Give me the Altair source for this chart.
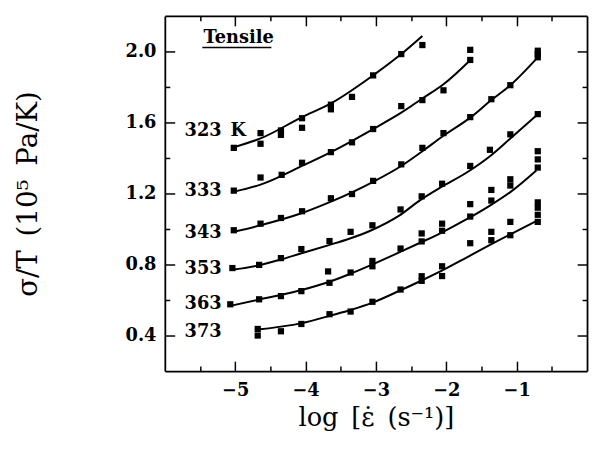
import altair as alt
import pandas as pd

# ---------------- data ----------------
temps = [323, 333, 343, 353, 363, 373]
label_text = ["323\u2002K", "333", "343", "353", "363", "373"]
label_x = [-5.72, -5.72, -5.72, -5.72, -5.72, -5.72]
label_y = [1.549, 1.216, 0.975, 0.776, 0.576, 0.418]

# measured points (log strain rate, sigma/T)
px323 = [-5.02, -4.64, -4.64, -4.35, -4.35, -4.05, -4.05, -3.64, -3.64, -3.34, -3.04, -2.64, -2.34]
py323 = [1.457, 1.54, 1.48, 1.555, 1.53, 1.624, 1.57, 1.70, 1.674, 1.744, 1.865, 1.985, 2.036]

px333 = [-5.02, -4.64, -4.34, -4.05, -3.64, -3.34, -3.04, -2.64, -2.34, -2.04, -1.66, -1.66]
py333 = [1.216, 1.29, 1.305, 1.373, 1.433, 1.488, 1.563, 1.692, 1.726, 1.781, 1.952, 2.009]

px343 = [-5.02, -4.64, -4.35, -4.05, -3.64, -3.34, -3.04, -2.64, -2.34, -2.04, -1.66, -1.36, -1.09, -0.70, -0.70, -0.70]
py343 = [0.993, 1.03, 1.062, 1.10, 1.173, 1.197, 1.271, 1.364, 1.457, 1.54, 1.63, 1.731, 1.81, 1.967, 1.985, 2.004]

px353 = [-5.04, -4.66, -4.35, -4.06, -3.66, -3.36, -3.05, -2.65, -2.35, -2.06, -1.66, -1.38, -1.09, -0.70]
py353 = [0.78, 0.798, 0.836, 0.887, 0.932, 0.984, 1.021, 1.11, 1.184, 1.255, 1.355, 1.446, 1.533, 1.647]

px363 = [-5.07, -4.66, -4.35, -4.06, -3.68, -3.66, -3.36, -3.05, -3.05, -2.65, -2.35, -2.35,
         -2.06, -2.06, -1.66, -1.66, -1.36, -1.36, -1.09, -1.09, -0.70, -0.70, -0.70]
py363 = [0.576, 0.604, 0.622, 0.65, 0.761, 0.697, 0.755, 0.82, 0.79, 0.89, 0.975, 0.93,
         1.03, 0.99, 1.14, 1.07, 1.22, 1.16, 1.28, 1.245, 1.438, 1.392, 1.346]

px373 = [-4.68, -4.68, -4.35, -4.06, -3.66, -3.36, -3.05, -2.65, -2.35, -2.35, -2.06, -2.06,
         -1.66, -1.36, -1.36, -1.09, -1.09, -0.70, -0.70, -0.70, -0.70]
py373 = [0.437, 0.40, 0.424, 0.465, 0.52, 0.535, 0.59, 0.659, 0.734, 0.708, 0.79, 0.735,
         0.92, 0.984, 0.937, 1.04, 0.965, 1.15, 1.12, 1.08, 1.04]

# fitted curves
fx323 = [-5.02, -4.64, -4.05, -3.64, -3.04, -2.64, -2.34]
fy323 = [1.46, 1.51, 1.63, 1.707, 1.865, 1.985, 2.087]

fx333 = [-5.02, -4.64, -4.05, -3.64, -3.04, -2.64, -2.34, -2.04, -1.65]
fy333 = [1.21, 1.25, 1.355, 1.433, 1.563, 1.655, 1.735, 1.815, 1.955]

fx343 = [-5.02, -4.64, -4.05, -3.64, -3.04, -2.64, -2.34, -2.04, -1.65, -1.36, -1.09, -0.70]
fy343 = [0.984, 1.021, 1.09, 1.154, 1.266, 1.355, 1.438, 1.525, 1.63, 1.726, 1.81, 1.967]

fx353 = [-5.02, -4.67, -4.37, -4.07, -3.68, -3.38, -3.08, -2.67, -2.38, -2.08, -1.71, -1.38, -1.09, -0.70]
fy353 = [0.772, 0.795, 0.826, 0.862, 0.908, 0.945, 0.99, 1.075, 1.16, 1.234, 1.318, 1.41, 1.51, 1.646]

fx363 = [-5.07, -4.67, -4.37, -4.07, -3.68, -3.38, -3.08, -2.67, -2.38, -2.08, -1.71, -1.38, -1.10, -0.72]
fy363 = [0.567, 0.602, 0.627, 0.655, 0.70, 0.745, 0.795, 0.868, 0.921, 0.977, 1.055, 1.132, 1.205, 1.33]

fx373 = [-4.65, -4.35, -4.05, -3.65, -3.35, -3.05, -2.65, -2.35, -2.05, -1.70, -1.38, -1.09, -0.70]
fy373 = [0.435, 0.45, 0.47, 0.512, 0.545, 0.585, 0.655, 0.71, 0.768, 0.842, 0.91, 0.97, 1.049]

x_ticks = [-5.5, -5.0, -4.5, -4.0, -3.5, -3.0, -2.5, -2.0, -1.5, -1.0, -0.5]
y_ticks = [0.4, 0.6, 0.8, 1.0, 1.2, 1.4, 1.6, 1.8, 2.0]

# ---------------- tables ----------------
pts_x = [px323, px333, px343, px353, px363, px373]
pts_y = [py323, py333, py343, py353, py363, py373]
fit_x = [fx323, fx333, fx343, fx353, fx363, fx373]
fit_y = [fy323, fy333, fy343, fy353, fy363, fy373]

pts = pd.DataFrame(
    [{"T": t, "x": a, "y": b} for t, xs, ys in zip(temps, pts_x, pts_y) for a, b in zip(xs, ys)]
)
fits = pd.DataFrame(
    [{"T": t, "x": a, "y": b, "o": i}
     for t, xs, ys in zip(temps, fit_x, fit_y) for i, (a, b) in enumerate(zip(xs, ys))]
)
labels = pd.DataFrame({"x": label_x, "y": label_y, "t": label_text})
tens = pd.DataFrame({"x": [-5.45], "y": [2.076], "t": ["Tensile"]})

# ---------------- styling ----------------
FONT = "DejaVu Serif"
xscale = alt.Scale(domain=[-6, 0], nice=False, zero=False)
yscale = alt.Scale(domain=[0.2, 2.2], nice=False, zero=False)

xsize = {"expr": "datum.value % 1 === 0 ? -10 : -5"}
ysize = {"expr": "round(datum.value * 10) % 4 === 0 ? -10 : -5"}

common = dict(grid=False, domainColor="black", domainWidth=1.8, tickColor="black",
              tickWidth=1.5, labelColor="black", titleColor="black", zindex=2,
              labelFont=FONT, titleFont=FONT, labelOverlap=False, labelFlush=False)

x_bottom = alt.Axis(orient="bottom", values=x_ticks, tickSize=xsize,
                    labelExpr="datum.value % 1 === 0 ? format(datum.value, 'd') : ''",
                    labelPadding=21, labelFontSize=18, labelFontWeight="bold",
                    title="log\u2002[ε̇\u2002(s⁻¹)]", titleFontSize=26, titleFontWeight="normal",
                    titlePadding=0, **common)
y_left = alt.Axis(orient="left", values=y_ticks, tickSize=ysize,
                  labelExpr="round(datum.value * 10) % 4 === 0 ? format(datum.value, '.1f') : ''",
                  labelPadding=19, labelFontSize=18, labelFontWeight="bold",
                  title="σ/T\u2002(10⁵\u2002Pa/K)", titleFontSize=28, titleFontWeight="normal",
                  titlePadding=84, **common)
x_top = alt.Axis(orient="top", values=x_ticks, tickSize=xsize, labels=False, title="", **common)
y_right = alt.Axis(orient="right", values=y_ticks, tickSize=ysize, labels=False, title="", **common)

lines = alt.Chart(fits).mark_line(color="black", strokeWidth=2, interpolate="monotone").encode(
    x=alt.X("x:Q", scale=xscale, axis=x_top),
    y=alt.Y("y:Q", scale=yscale, axis=y_right),
    detail="T:N",
    order="o:Q",
)

points = alt.Chart(pts).mark_square(size=40, color="black", opacity=1).encode(
    x=alt.X("x:Q", scale=xscale, axis=x_bottom),
    y=alt.Y("y:Q", scale=yscale, axis=y_left),
)

texts = alt.Chart(labels).mark_text(align="left", baseline="middle", font=FONT,
                                    fontSize=18, fontWeight="bold", color="black").encode(
    x=alt.X("x:Q", scale=xscale, axis=None),
    y=alt.Y("y:Q", scale=yscale, axis=None),
    text="t:N",
)

tensile = alt.Chart(tens).mark_text(
    align="left", baseline="middle", font=FONT, fontSize=18, fontWeight="bold", color="black"
).encode(
    x=alt.X("x:Q", scale=xscale, axis=None),
    y=alt.Y("y:Q", scale=yscale, axis=None),
    text="t:N",
)

underline = alt.Chart(tens).mark_rule(color="black", strokeWidth=1.5).encode(
    x=alt.value(38), x2=alt.value(108), y=alt.value(32)
)

chart = alt.layer(lines, points, texts, tensile, underline).resolve_axis(
    x="independent", y="independent"
).properties(
    width=428, height=360, autosize="none",
    padding={"left": 159, "top": 5, "right": 2, "bottom": 76},
).configure_view(stroke="black", strokeWidth=1.8).configure(background="white")

chart.save("out.html", embed_options={"renderer": "svg", "actions": False})
